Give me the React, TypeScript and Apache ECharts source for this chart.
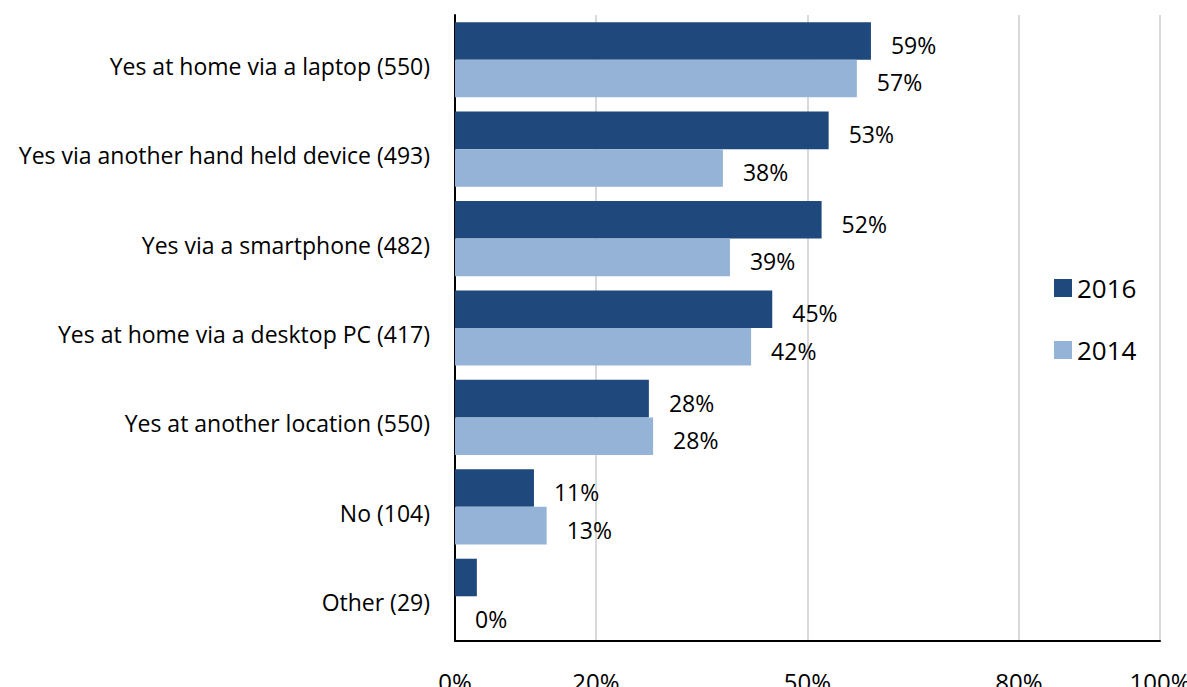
import React, { useEffect, useRef } from "react";
import * as echarts from "echarts";

const categories = [
  "Yes at home via a laptop (550)",
  "Yes via another hand held device (493)",
  "Yes via a smartphone (482)",
  "Yes at home via a desktop PC (417)",
  "Yes at another location (550)",
  "No (104)",
  "Other (29)",
];
const values2016 = [59, 53, 52, 45, 27.5, 11.2, 3.1];
const values2014 = [57, 38, 39, 42, 28.1, 13, 0];
const hiddenLabels2016 = [false, false, false, false, false, false, true];
const xTickValues = [0, 20, 50, 80, 100];
const seriesNames = ["2016", "2014"];

const FONT = "Open Sans";

export default function App() {
  const ref = useRef<HTMLDivElement>(null);
  useEffect(() => {
    if (!ref.current) return;
    const chart = echarts.init(ref.current, undefined, { renderer: "svg" });
    const labelStyle = {
      show: true,
      position: "right",
      distance: 20,
      offset: [0, 4],
      color: "#000",
      fontFamily: FONT,
      fontSize: 23,
      formatter: (p: any) => Math.round(p.value) + "%",
    };
    chart.setOption({
      animation: false,
      backgroundColor: "#fff",
      grid: {
        left: 455,
        right: 27,
        top: 15,
        bottom: 46,
        containLabel: false,
        outerBoundsMode: "none",
      },
      legend: {
        orient: "vertical",
        left: 1049,
        top: 268,
        itemWidth: 18,
        itemHeight: 18,
        itemGap: 32,
        icon: "rect",
        textStyle: { fontFamily: FONT, fontSize: 26, color: "#000", lineHeight: 30 },
        data: seriesNames,
      },
      xAxis: {
        type: "value",
        min: 0,
        max: 100,
        axisLine: { show: true, lineStyle: { color: "#000", width: 2 } },
        axisTick: { show: false, customValues: xTickValues },
        splitLine: { show: true, lineStyle: { color: "#d9d9d9", width: 2 } },
        axisLabel: {
          customValues: xTickValues,
          formatter: (v: number) => v + "%",
          fontFamily: FONT,
          fontSize: 24,
          color: "#000",
          margin: 28,
        },
      },
      yAxis: {
        type: "category",
        inverse: true,
        data: categories,
        axisLine: { show: true, lineStyle: { color: "#000", width: 2 } },
        axisTick: { show: false },
        axisLabel: {
          fontFamily: FONT,
          fontSize: 23,
          color: "#000",
          margin: 25,
          verticalAlign: "top",
          lineHeight: 12,
        },
      },
      series: [
        {
          name: seriesNames[0],
          type: "bar",
          barGap: "0%",
          barCategoryGap: "16%",
          itemStyle: { color: "#1f497d" },
          label: labelStyle,
          data: values2016.map((v, i) => ({
            value: v,
            label: hiddenLabels2016[i] ? { show: false } : undefined,
          })),
        },
        {
          name: seriesNames[1],
          type: "bar",
          barGap: "0%",
          barCategoryGap: "16%",
          itemStyle: { color: "#95b3d7" },
          label: labelStyle,
          data: values2014,
        },
      ],
    });
    return () => chart.dispose();
  }, []);
  return (
    <div
      ref={ref}
      style={{ position: "absolute", left: 0, top: 0, width: 1187, height: 687 }}
    />
  );
}
